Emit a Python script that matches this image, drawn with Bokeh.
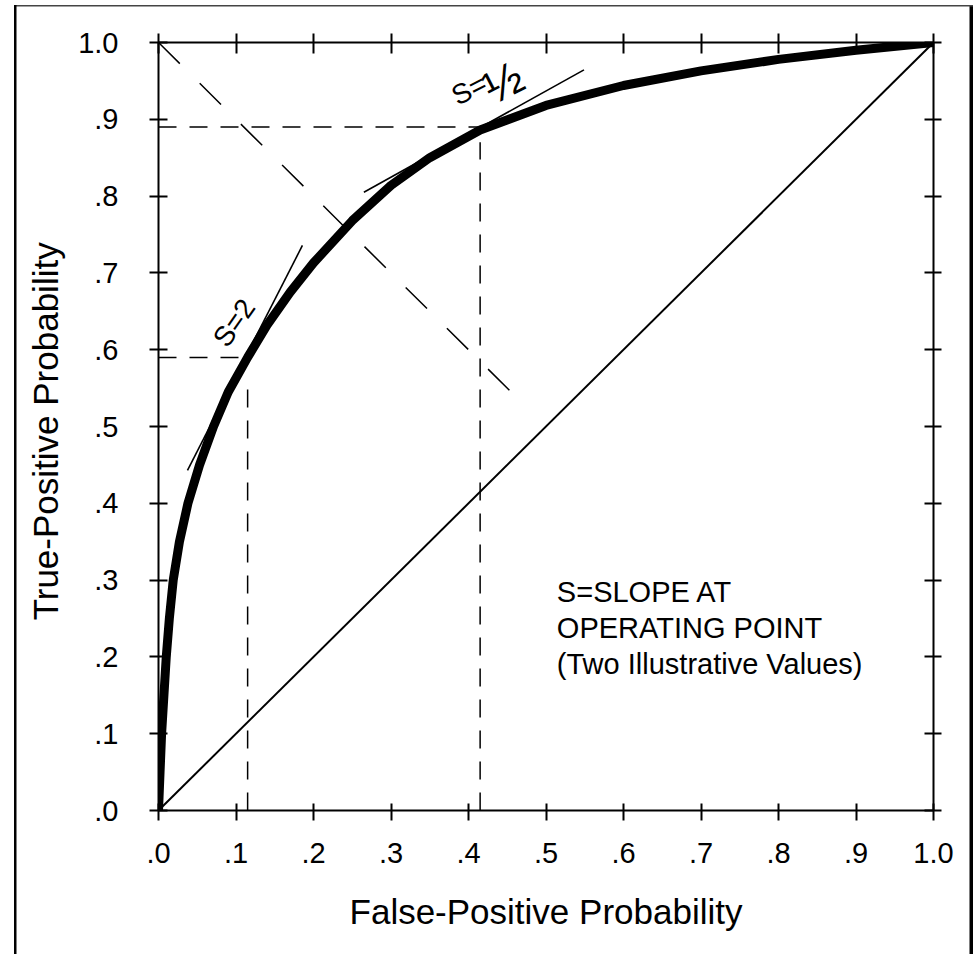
from bokeh.plotting import figure
from bokeh.models import Range1d, LinearAxis, FixedTicker
from bokeh.core.properties import value
from bokeh.embed import file_html
from bokeh.resources import INLINE

# ---- data -------------------------------------------------------------
tick_values = [0.0, 0.1, 0.2, 0.3, 0.4, 0.5, 0.6, 0.7, 0.8, 0.9, 1.0]
tick_labels = [".0", ".1", ".2", ".3", ".4", ".5", ".6", ".7", ".8", ".9", "1.0"]

roc_fpr = [0.0, 0.002, 0.004, 0.007, 0.010, 0.014, 0.019, 0.027, 0.038, 0.053,
           0.071, 0.090, 0.115, 0.140, 0.170, 0.200, 0.250, 0.300, 0.350, 0.415,
           0.500, 0.600, 0.700, 0.800, 0.900, 1.0]
roc_tpr = [0.0, 0.050, 0.100, 0.150, 0.200, 0.250, 0.300, 0.350, 0.400, 0.450,
           0.500, 0.545, 0.590, 0.632, 0.675, 0.713, 0.768, 0.814, 0.850, 0.886,
           0.918, 0.944, 0.963, 0.978, 0.990, 1.0]

chance_x = [0.0, 1.0]
chance_y = [0.0, 1.0]

neg_diag_x = [0.0, 0.474]
neg_diag_y = [1.0, 0.526]

# operating points (S=2 and S=1/2)
op_fpr = [0.115, 0.415]
op_tpr = [0.590, 0.890]
op_vline_top = [0.55, 0.87]

# tangent lines
tan2_x = [0.0374, 0.1857]
tan2_y = [0.443, 0.7357]
tanh_x = [0.265, 0.549]
tanh_y = [0.805, 0.9644]

note_lines = ["S=SLOPE AT", "OPERATING POINT", "(Two Illustrative Values)"]
note_x = [0.514, 0.514, 0.514]
note_y = [0.284, 0.237, 0.191]

FONT = "Liberation Sans"

# ---- figure -----------------------------------------------------------
W, H = 973, 954
p = figure(width=W, height=H, x_range=Range1d(0, 1), y_range=Range1d(0, 1),
           output_backend="svg", toolbar_location=None,
           min_border_left=158, min_border_right=40,
           min_border_top=42, min_border_bottom=144)
p.grid.visible = False
p.outline_line_color = None
p.background_fill_color = "white"
p.border_fill_color = None
# outer frame of the scanned figure (left, top and right rules)
p.styles = {"box-shadow": "inset 14px 0 0 white, inset 0 5px 0 white, "
                          "inset 16.5px 0 0 black, inset 0 6.5px 0 #444444, "
                          "inset -3.5px 0 0 black"}

p.add_layout(LinearAxis(), "above")
p.add_layout(LinearAxis(), "right")

overrides = {t: l for t, l in zip(tick_values, tick_labels)}
tick_io = {"below": (7, 10), "left": (9, 9), "above": (11, 9), "right": (9, 8)}
for side, axes in (("below", p.below), ("left", p.left), ("above", p.above), ("right", p.right)):
    for ax in axes:
        ax.ticker = FixedTicker(ticks=tick_values)
        ax.axis_line_width = 2
        ax.axis_line_color = "black"
        ax.major_tick_line_width = 2
        ax.major_tick_line_color = "black"
        ax.major_tick_in, ax.major_tick_out = tick_io[side]
        ax.minor_tick_line_color = None
        if side in ("below", "left"):
            ax.major_label_overrides = overrides
            ax.major_label_text_font = FONT
            ax.major_label_text_font_size = "29px"
            ax.major_label_text_color = "black"
            ax.axis_label_text_font = FONT
            ax.axis_label_text_font_size = "35px"
            ax.axis_label_text_font_style = "normal"
            ax.axis_label_text_color = "black"
        else:
            ax.major_label_text_color = None
            ax.major_label_text_font_size = "1px"
            ax.major_label_standoff = 0

xb = p.below[0]
xb.axis_label = "False-Positive Probability"
xb.major_label_standoff = 22
xb.axis_label_standoff = 26
yl = p.left[0]
yl.axis_label = "True-Positive  Probability"
yl.major_label_standoff = 31
yl.axis_label_standoff = 10

# ---- marks ------------------------------------------------------------
p.line(chance_x, chance_y, line_color="black", line_width=2)
p.line(neg_diag_x, neg_diag_y, line_color="black", line_width=1.5, line_dash="30 28")

for fx, ty, vt in zip(op_fpr, op_tpr, op_vline_top):
    p.line([0.0, fx], [ty, ty], line_color="black", line_width=1.5, line_dash="18 13")
    p.line([fx, fx], [0.0, vt], line_color="black", line_width=1.5, line_dash="18 13")

p.line(tan2_x, tan2_y, line_color="black", line_width=1.6)
p.line(tanh_x, tanh_y, line_color="black", line_width=1.6)

p.line(roc_fpr, roc_tpr, line_color="black", line_width=9, line_join="round", line_cap="round")

# slope labels
p.text(x=[0.0975], y=[0.635], text=["S=2"], angle=[0.96], text_font=value(FONT),
       text_font_size="28px", text_align="center", text_baseline="middle", text_color="black")
p.text(x=[0.4007], y=[0.9388], text=["S="], angle=[0.47], text_font=value(FONT),
       text_font_size="28px", text_align="center", text_baseline="middle", text_color="black")
p.text(x=[0.4445], y=[0.9483], text=["\u00bd"], angle=[0.47], text_font=value(FONT),
       text_font_size="46px", text_align="center", text_baseline="middle", text_color="black")

# note
p.text(x=note_x, y=note_y, text=note_lines, text_font=value(FONT), text_font_size="29px",
       text_align="left", text_baseline="alphabetic", text_color="black")

open("out.html", "w").write(file_html(p, INLINE))
